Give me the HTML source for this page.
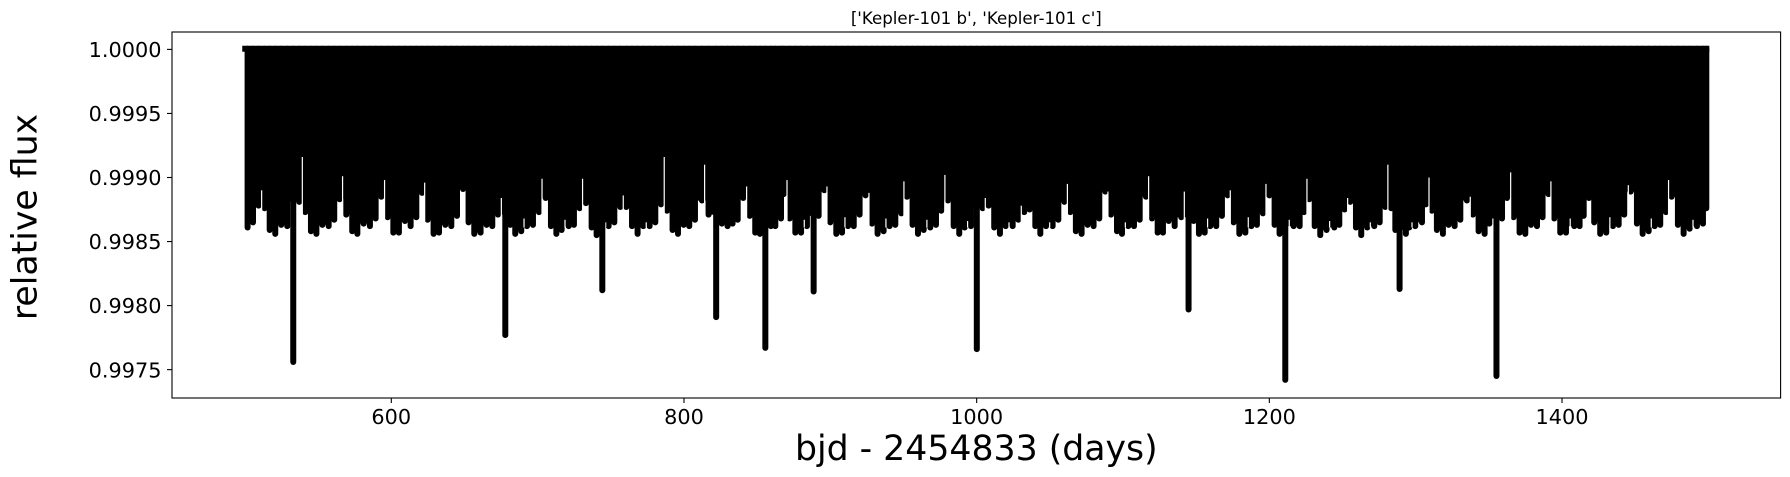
<!DOCTYPE html>
<html lang="en">
<head>
<meta charset="utf-8">
<title>Kepler-101 light curve</title>
<style>
html,body{margin:0;padding:0;background:#fff;width:1790px;height:477px;overflow:hidden}
svg{display:block}
text{font-family:"DejaVu Sans",sans-serif;fill:#000}
</style>
</head>
<body>
<svg id="chart" xmlns="http://www.w3.org/2000/svg" width="1790" height="477" viewBox="0 0 1790 477">
<rect x="0" y="0" width="1790" height="477" fill="#fff"/>
<g id="marks"></g>
<rect x="172" y="32" width="1608.6" height="366" fill="none" stroke="#000" stroke-width="1.1"/>
<g id="ticks"></g>
<text x="976.3" y="24" font-size="16.67" text-anchor="middle">['Kepler-101 b', 'Kepler-101 c']</text>
<text x="976.3" y="460" font-size="34.7" text-anchor="middle">bjd - 2454833 (days)</text>
<text x="0" y="0" font-size="34.7" text-anchor="middle" transform="translate(36.7 217) rotate(-90)">relative flux</text>
</svg>
<script>
const xTickValues = [600, 800, 1000, 1200, 1400];
const xTickLabels = ['600', '800', '1000', '1200', '1400'];
const yTickValues = [1.0, 0.9995, 0.999, 0.9985, 0.998, 0.9975];
const yTickLabels = ['1.0000', '0.9995', '0.9990', '0.9985', '0.9980', '0.9975'];

const baselineDays = [500.2, 1498.6];
const baselineFlux = [1.000005, 1.000005];

const transitDays = [
501.8,505.5,509.3,513.4,516.9,520.7,524.8,528.9,537.1,
541.2,545.1,548.8,552.9,557.2,561.0,564.7,
569.2,573.3,576.8,581.1,585.4,589.3,593.2,
597.5,601.4,605.2,609.3,613.2,617.1,621.0,
624.8,628.9,632.6,636.9,641.0,644.9,649.0,
652.8,656.7,661.0,665.1,669.0,672.9,
681.3,684.7,688.8,692.7,696.8,700.9,
705.5,709.1,712.8,716.4,721.2,724.8,728.7,
733.0,736.9,740.3,748.5,752.4,756.5,
760.6,764.5,768.3,772.2,776.5,780.4,784.3,
788.4,792.2,795.9,799.8,803.6,807.5,812.3,
816.8,825.9,829.8,833.2,836.7,840.5,
844.9,848.7,851.9,859.4,862.4,866.3,868.1,
872.2,876.1,880.0,884.0,892.0,895.9,
900.0,904.1,908.0,912.1,916.0,920.0,924.1,
928.5,932.3,936.4,940.5,944.4,948.5,
952.4,956.2,959.9,963.8,968.3,972.2,975.8,
980.4,984.3,988.1,991.8,996.1,1004.1,
1008.2,1012.0,1015.9,1019.8,1024.6,1028.5,
1032.5,1036.2,1040.1,1043.5,1047.4,1051.9,1055.8,1059.9,
1064.0,1067.8,1071.7,1075.8,1079.9,1083.8,1087.9,
1091.8,1095.9,1099.3,1103.6,1107.5,1111.4,1115.7,
1119.8,1123.7,1127.3,1131.2,1135.3,1139.8,
1148.3,1151.9,1155.8,1159.6,1163.7,1167.6,1171.5,
1175.6,1179.5,1183.6,1187.7,1191.5,1195.6,
1200.0,1203.6,1207.0,1216.6,1220.7,1223.7,
1227.3,1231.0,1234.8,1239.1,1244.4,1247.8,1251.4,
1255.3,1259.2,1262.8,1266.9,1271.7,1275.4,1279.2,
1283.3,1286.1,1293.3,1295.6,1299.7,1304.3,1307.0,
1311.1,1314.5,1318.6,1322.5,1326.6,1330.5,1335.0,
1339.1,1343.0,1347.1,1350.3,1359.0,1362.4,
1366.9,1371.0,1374.9,1378.8,1382.9,1386.7,1390.8,
1394.7,1398.8,1402.7,1408.4,1412.0,1414.8,1418.4,
1422.0,1426.1,1430.2,1434.8,1438.7,1442.5,
1446.9,1451.2,1455.1,1459.2,1463.3,1467.1,1471.0,
1474.9,1479.2,1483.1,1487.2,1492.2,1496.3,1498.6
];
const transitFlux = [
0.99861,0.99865,0.99878,0.99876,0.99859,0.99856,0.99863,0.99862,0.99881,
0.99873,0.99858,0.99856,0.99863,0.99862,0.99867,0.99883,
0.99871,0.99858,0.99856,0.99864,0.99862,0.99868,0.99885,
0.99869,0.99857,0.99857,0.99866,0.99862,0.99869,0.99888,
0.99867,0.99856,0.99857,0.99863,0.99862,0.99870,0.99891,
0.99865,0.99856,0.99857,0.99863,0.99862,0.99871,
0.99863,0.99856,0.99858,0.99862,0.99863,0.99873,
0.99884,0.99862,0.99856,0.99859,0.99862,0.99863,0.99876,
0.99880,0.99861,0.99855,0.99862,0.99865,0.99877,
0.99877,0.99862,0.99856,0.99862,0.99862,0.99865,0.99879,
0.99874,0.99859,0.99856,0.99863,0.99862,0.99867,0.99882,
0.99871,0.99864,0.99862,0.99864,0.99867,0.99884,
0.99870,0.99857,0.99856,0.99862,0.99862,0.99868,0.99887,
0.99868,0.99857,0.99857,0.99862,0.99870,0.99890,
0.99865,0.99856,0.99857,0.99862,0.99862,0.99871,0.99886,
0.99864,0.99856,0.99858,0.99862,0.99863,0.99872,
0.99885,0.99863,0.99856,0.99859,0.99861,0.99863,0.99874,
0.99882,0.99862,0.99856,0.99861,0.99862,0.99876,
0.99878,0.99861,0.99856,0.99862,0.99862,0.99867,
0.99873,0.99875,0.99862,0.99856,0.99862,0.99862,0.99867,0.99881,
0.99873,0.99858,0.99856,0.99863,0.99862,0.99868,0.99889,
0.99871,0.99858,0.99856,0.99862,0.99862,0.99867,0.99885,
0.99868,0.99857,0.99857,0.99866,0.99862,0.99869,
0.99866,0.99856,0.99857,0.99862,0.99862,0.99870,0.99886,
0.99865,0.99856,0.99857,0.99862,0.99863,0.99872,
0.99886,0.99863,0.99856,0.99862,0.99862,0.99873,
0.99883,0.99862,0.99855,0.99859,0.99861,0.99863,0.99875,
0.99881,0.99861,0.99855,0.99861,0.99862,0.99865,0.99877,
0.99876,0.99859,0.99856,0.99861,0.99862,0.99865,0.99879,
0.99874,0.99859,0.99856,0.99863,0.99862,0.99867,0.99882,
0.99871,0.99858,0.99856,0.99864,0.99868,0.99884,
0.99869,0.99857,0.99856,0.99863,0.99862,0.99869,0.99887,
0.99868,0.99857,0.99857,0.99862,0.99862,0.99870,0.99884,
0.99865,0.99856,0.99857,0.99862,0.99863,0.99871,
0.99889,0.99864,0.99856,0.99858,0.99862,0.99863,0.99873,
0.99885,0.99863,0.99856,0.99860,0.99862,0.99864,0.99876
];

const gapDays = [
511.4,539.2,566.7,595.4,622.8,675.2,690.7,703.0,718.7,730.7,746.5,758.5,774.2,786.5,814.1,
842.8,870.4,882.2,897.7,910.0,926.4,938.0,950.3,966.0,978.3,993.8,1005.9,1022.1,1030.5,
1049.9,1062.0,1089.7,1101.6,1117.5,1141.9,1157.8,1173.3,1185.6,1197.7,1213.6,1225.7,1241.2,
1253.5,1269.0,1281.0,1297.5,1309.1,1337.3,1364.9,1392.4,1405.6,1432.7,1445.3,1461.0,1472.8,1489.5
];
const gapFlux = [
0.99890,0.99916,0.99901,0.99898,0.99896,0.99884,0.99868,0.99899,0.99867,0.99899,0.99865,0.99886,0.99865,0.99916,0.99910,
0.99893,0.99898,0.99867,0.99893,0.99869,0.99888,0.99868,0.99897,0.99867,0.99902,0.99866,0.99884,0.99865,0.99878,
0.99865,0.99895,0.99889,0.99865,0.99901,0.99889,0.99868,0.99890,0.99869,0.99895,0.99867,0.99899,0.99866,
0.99884,0.99865,0.99910,0.99865,0.99900,0.99885,0.99904,0.99897,0.99868,0.99869,0.99894,0.99868,0.99898,0.99867
];

const deepTransitDays = [533.0, 677.9, 744.2, 822.0, 855.6, 888.6, 1000.1, 1144.8, 1210.9, 1289.0, 1355.2];
const deepTransitFlux = [0.99756, 0.99777, 0.99812, 0.99791, 0.99767, 0.99811, 0.99766, 0.99797, 0.99742, 0.99813, 0.99745];

const SVG_NS = 'http://www.w3.org/2000/svg';
const xScale = function (day) { return 391.3 + (day - 600) * 1.4634; };
const yScale = function (flux) { return 49.4 + (1 - flux) * 128100; };
const marks = document.getElementById('marks');
const ticks = document.getElementById('ticks');

function makeLine(parent, x1, y1, x2, y2, color, width, cap) {
  const line = document.createElementNS(SVG_NS, 'line');
  line.setAttribute('x1', x1);
  line.setAttribute('y1', y1);
  line.setAttribute('x2', x2);
  line.setAttribute('y2', y2);
  line.setAttribute('stroke', color);
  line.setAttribute('stroke-width', width);
  line.setAttribute('stroke-linecap', cap);
  parent.appendChild(line);
  return line;
}

let bodyPath = '';
const bodyTop = yScale(baselineFlux[0]).toFixed(1);
transitDays.slice(0, -1).forEach(function (day, i) {
  const left = xScale(day).toFixed(1);
  const right = xScale(transitDays[i + 1]).toFixed(1);
  const shallow = yScale(Math.max(transitFlux[i], transitFlux[i + 1])).toFixed(1);
  bodyPath += 'M' + left + ' ' + bodyTop + 'L' + right + ' ' + bodyTop + 'L' + right + ' ' + shallow + 'L' + left + ' ' + shallow + 'Z';
});
const body = document.createElementNS(SVG_NS, 'path');


body.setAttribute('d', bodyPath);
body.setAttribute('fill', '#000');
marks.appendChild(body);

const baseline = makeLine(marks, xScale(baselineDays[0]), yScale(baselineFlux[0]), xScale(baselineDays[1]), yScale(baselineFlux[1]), '#000', 6, 'square');



transitDays.forEach(function (day, i) {
  const column = makeLine(marks, xScale(day), yScale(baselineFlux[0]), xScale(day), yScale(transitFlux[i]), '#000', 6, 'round');
  
  
});

gapDays.forEach(function (day, i) {
  const gap = makeLine(marks, xScale(day), yScale(gapFlux[i]), xScale(day), yScale(0.99861), '#fff', 1.2, 'butt');
  
  
});

deepTransitDays.forEach(function (day, i) {
  const deep = makeLine(marks, xScale(day), yScale(baselineFlux[0]), xScale(day), yScale(deepTransitFlux[i]), '#000', 6, 'round');
  
  
});

xTickValues.forEach(function (value, i) {
  const x = xScale(value);
  const mark = makeLine(ticks, x, 398, x, 403, '#000', 1.1, 'butt');
  
  
  const label = document.createElementNS(SVG_NS, 'text');
  
  
  label.setAttribute('x', x);
  label.setAttribute('y', 424);
  label.setAttribute('font-size', '20.83');
  label.setAttribute('text-anchor', 'middle');
  label.textContent = xTickLabels[i];
  ticks.appendChild(label);
});

yTickValues.forEach(function (value, i) {
  const y = yScale(value);
  const mark = makeLine(ticks, 167, y, 172, y, '#000', 1.1, 'butt');
  
  
  const label = document.createElementNS(SVG_NS, 'text');
  
  
  label.setAttribute('x', 161.5);
  label.setAttribute('y', y + 7.6);
  label.setAttribute('font-size', '20.83');
  label.setAttribute('text-anchor', 'end');
  label.textContent = yTickLabels[i];
  ticks.appendChild(label);
});
</script>
</body>
</html>
